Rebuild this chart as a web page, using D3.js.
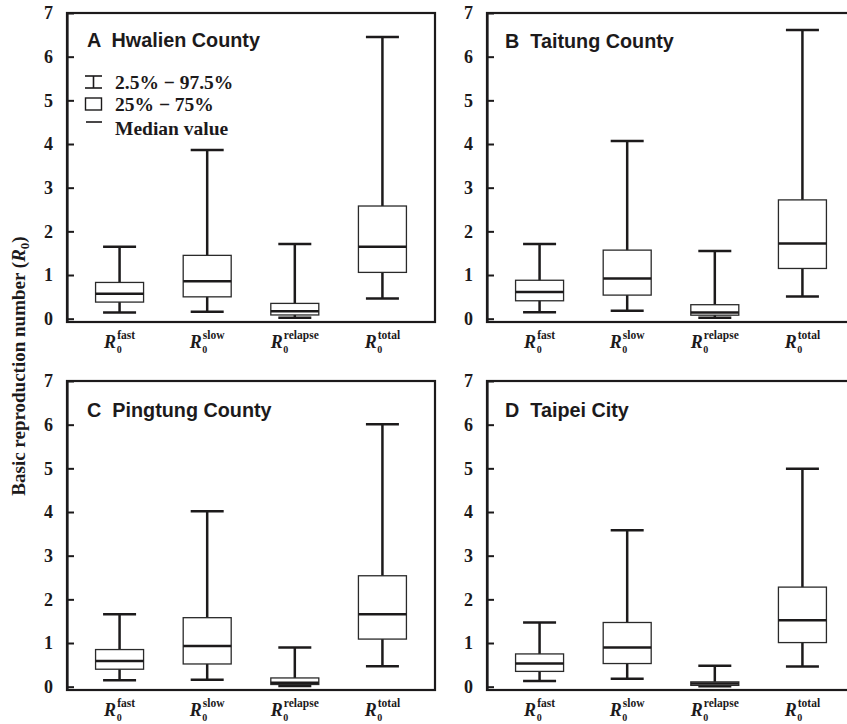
<!DOCTYPE html>
<html>
<head>
<meta charset="utf-8">
<script src="https://cdn.jsdelivr.net/npm/d3@7"></script>
<style>
  html, body { margin: 0; padding: 0; background: #fff; }
  svg { display: block; }
</style>
</head>
<body>
<script>
// ---- data ----
const categories = ["fast", "slow", "relapse", "total"];
const panelTitles = ["A  Hwalien County", "B  Taitung County", "C  Pingtung County", "D  Taipei City"];
const yTicks = [0, 1, 2, 3, 4, 5, 6, 7];

const hwalienLow  = [0.14, 0.16, 0.02, 0.46];
const hwalienQ1   = [0.38, 0.50, 0.085, 1.06];
const hwalienMed  = [0.57, 0.86, 0.17, 1.65];
const hwalienQ3   = [0.83, 1.45, 0.35, 2.58];
const hwalienHigh = [1.65, 3.86, 1.71, 6.45];

const taitungLow  = [0.15, 0.18, 0.02, 0.51];
const taitungQ1   = [0.41, 0.54, 0.08, 1.15];
const taitungMed  = [0.61, 0.92, 0.14, 1.72];
const taitungQ3   = [0.88, 1.57, 0.32, 2.72];
const taitungHigh = [1.71, 4.07, 1.55, 6.61];

const pingtungLow  = [0.15, 0.16, 0.015, 0.47];
const pingtungQ1   = [0.40, 0.52, 0.05, 1.09];
const pingtungMed  = [0.59, 0.93, 0.09, 1.66];
const pingtungQ3   = [0.85, 1.58, 0.20, 2.54];
const pingtungHigh = [1.66, 4.02, 0.90, 6.01];

const taipeiLow  = [0.13, 0.18, 0.01, 0.46];
const taipeiQ1   = [0.35, 0.53, 0.03, 1.01];
const taipeiMed  = [0.53, 0.90, 0.07, 1.52];
const taipeiQ3   = [0.75, 1.47, 0.11, 2.28];
const taipeiHigh = [1.47, 3.58, 0.48, 4.99];

const legendLabels = ["2.5% \u2212 97.5%", "25% \u2212 75%", "Median value"];
const yTitle = "Basic reproduction number (";

// ---- build ----
const panelData = [
  [hwalienLow, hwalienQ1, hwalienMed, hwalienQ3, hwalienHigh],
  [taitungLow, taitungQ1, taitungMed, taitungQ3, taitungHigh],
  [pingtungLow, pingtungQ1, pingtungMed, pingtungQ3, pingtungHigh],
  [taipeiLow, taipeiQ1, taipeiMed, taipeiQ3, taipeiHigh]
];

const W = 847, H = 724;
const serif = "'Liberation Serif', 'Times New Roman', serif";
const sans = "'Liberation Sans', Arial, sans-serif";
const ink = "#1c1a1b";

const svg = d3.select("body").append("svg").attr("width", W).attr("height", H);

const panelW = 368, panelH = 309;
const origins = [[67, 13], [487, 13], [67, 381], [487, 381]];

panelData.forEach((pd, pi) => {
  const [ox, oy] = origins[pi];
  const g = svg.append("g").attr("transform", `translate(${ox},${oy})`);
  const x = d3.scalePoint().domain(categories).range([0, panelW]).padding(0.6);
  const y = d3.scaleLinear().domain([-0.076, 7]).range([panelH, 0]);

  // frame
  g.append("rect").attr("x", 0).attr("y", 0).attr("width", panelW).attr("height", panelH)
    .attr("fill", "none").attr("stroke", ink).attr("stroke-width", 2.2);

  // y axis
  const ax = g.append("g").call(d3.axisLeft(y).tickValues(yTicks).tickSizeInner(-7).tickSizeOuter(0).tickPadding(14).tickFormat(d3.format("d")));
  ax.attr("font-family", serif).attr("font-weight", "bold").attr("font-size", 18);
  ax.select(".domain").attr("stroke", ink).attr("stroke-width", 2.2);
  ax.selectAll(".tick line").attr("stroke", ink).attr("stroke-width", 2);
  ax.selectAll(".tick text").attr("fill", ink).style("font-family", serif)
    .style("font-weight", "bold").style("font-size", "18px");

  const [lo, q1, med, q3, hi] = pd;
  const boxW = 48, capW = 33;
  categories.forEach((c, i) => {
    const cx = x(c);
    // whisker
    g.append("line").attr("x1", cx).attr("x2", cx).attr("y1", y(lo[i])).attr("y2", y(hi[i]))
      .attr("stroke", ink).attr("stroke-width", 2.5);
    [lo[i], hi[i]].forEach(v => {
      g.append("line").attr("x1", cx - capW / 2).attr("x2", cx + capW / 2)
        .attr("y1", y(v)).attr("y2", y(v)).attr("stroke", ink).attr("stroke-width", 2.5);
    });
    // box
    g.append("rect").attr("x", cx - boxW / 2).attr("width", boxW)
      .attr("y", y(q3[i])).attr("height", y(q1[i]) - y(q3[i]))
      .attr("fill", "#fff").attr("stroke", "#2a2a2a").attr("stroke-width", 1.3);
    // median
    g.append("line").attr("x1", cx - boxW / 2).attr("x2", cx + boxW / 2)
      .attr("y1", y(med[i])).attr("y2", y(med[i])).attr("stroke", ink).attr("stroke-width", 2.5);

    // x label: R with superscript and subscript 0
    const lg = g.append("g");
    const tR = lg.append("text").attr("x", 0).attr("y", panelH + 26).text("R")
      .attr("fill", ink).style("font-family", serif).style("font-weight", "bold")
      .style("font-style", "italic").style("font-size", "18px");
    const wR = tR.node().getComputedTextLength();
    const tS = lg.append("text").attr("x", wR + 1).attr("y", panelH + 17).text(c)
      .attr("fill", ink).style("font-family", serif).style("font-weight", "bold").style("font-size", "11.5px");
    lg.append("text").attr("x", wR + 0.5).attr("y", panelH + 31).text("0")
      .attr("fill", ink).style("font-family", serif).style("font-weight", "bold").style("font-size", "10px");
    const wS = tS.node().getComputedTextLength();
    lg.attr("transform", `translate(${cx - (wR + 1 + wS) / 2},0)`);
  });

  // title
  g.append("text").attr("x", pi % 2 === 0 ? 20 : 18).attr("y", pi < 2 ? (pi === 0 ? 34 : 35) : 36)
    .attr("xml:space", "preserve").style("white-space", "pre")
    .text(panelTitles[pi]).attr("fill", ink)
    .style("font-family", sans).style("font-weight", "bold").style("font-size", "19.8px");

  // legend in panel A
  if (pi === 0) {
    const lx = 18, sw = 17;
    const rows = [69, 91, 114];
    const iy = rows[0];
    const lgd = g.append("g").attr("stroke", ink).attr("fill", "none");
    lgd.append("line").attr("x1", lx).attr("x2", lx + sw).attr("y1", iy - 6).attr("y2", iy - 6).attr("stroke-width", 1.6);
    lgd.append("line").attr("x1", lx).attr("x2", lx + sw).attr("y1", iy + 6).attr("y2", iy + 6).attr("stroke-width", 1.6);
    lgd.append("line").attr("x1", lx + sw / 2).attr("x2", lx + sw / 2).attr("y1", iy - 6).attr("y2", iy + 6).attr("stroke-width", 1.6);
    lgd.append("rect").attr("x", lx + 0.5).attr("y", rows[1] - 6).attr("width", sw - 1).attr("height", 12).attr("stroke-width", 1.4);
    lgd.append("line").attr("x1", lx + 1).attr("x2", lx + sw).attr("y1", rows[2] - 5).attr("y2", rows[2] - 5).attr("stroke-width", 1.6);
    legendLabels.forEach((t, k) => {
      g.append("text").attr("x", 48).attr("y", rows[k] + 6.5 + (k === 2 ? 1 : 0)).text(t)
        .attr("fill", ink).style("font-family", serif).style("font-weight", "bold").style("font-size", "19.5px");
    });
  }
});

// y-axis title
const yt = svg.append("text").attr("transform", "translate(25,366) rotate(-90)")
  .attr("text-anchor", "middle").attr("fill", ink)
  .style("font-family", serif).style("font-weight", "bold").style("font-size", "19px");
yt.append("tspan").text(yTitle);
yt.append("tspan").style("font-style", "italic").text("R");
yt.append("tspan").attr("dy", 4).style("font-size", "13px").text("0");
yt.append("tspan").attr("dy", -4).text(")");
</script>
</body>
</html>
